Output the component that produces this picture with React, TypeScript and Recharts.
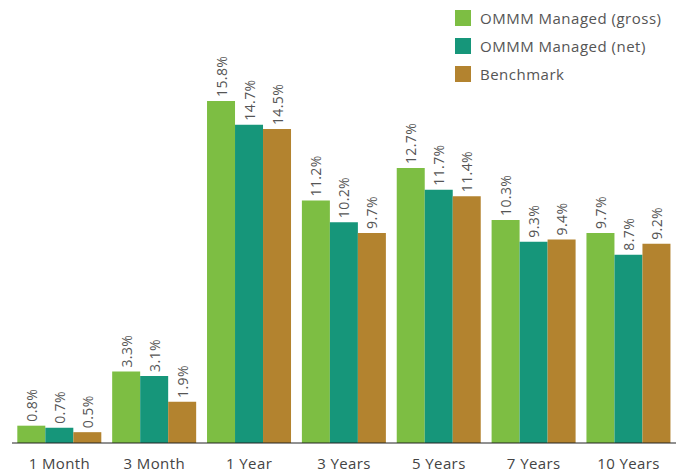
import { BarChart, Bar, XAxis, YAxis, LabelList } from 'recharts';

const categories = ['1 Month', '3 Month', '1 Year', '3 Years', '5 Years', '7 Years', '10 Years'];
const grossValues = [0.8, 3.3, 15.8, 11.2, 12.7, 10.3, 9.7];
const netValues = [0.7, 3.1, 14.7, 10.2, 11.7, 9.3, 8.7];
const benchmarkValues = [0.5, 1.9, 14.5, 9.7, 11.4, 9.4, 9.2];

const SERIES = [
  { key: 'gross', name: 'OMMM Managed (gross)', color: '#7DBE43' },
  { key: 'net', name: 'OMMM Managed (net)', color: '#16967A' },
  { key: 'benchmark', name: 'Benchmark', color: '#B3832F' },
];

const FONT = '"Open Sans", "DejaVu Sans", sans-serif';

const data = categories.map((name, i) => ({
  name,
  gross: grossValues[i],
  net: netValues[i],
  benchmark: benchmarkValues[i],
}));

const RotatedLabel = (props: any) => {
  const { x, y, width, value } = props;
  const cx = x + width / 2;
  const ty = y - 4;
  return (
    <text
      x={cx}
      y={ty}
      transform={`rotate(-90, ${cx}, ${ty})`}
      textAnchor="start"
      dominantBaseline="central"
      fontSize={14}
      letterSpacing={0.4}
      fill="#555"
      fontFamily={FONT}
    >
      {value.toFixed(1)}%
    </text>
  );
};

export default function App() {
  return (
    <div style={{ position: 'absolute', left: 0, top: 0, width: 684, height: 473, background: '#fff' }}>
      <BarChart
        width={684}
        height={473}
        data={data}
        margin={{ top: 10, right: 8, left: 12, bottom: 0 }}
        barCategoryGap="5.6%"
        barGap={0}
      >
        <XAxis
          dataKey="name"
          height={30}
          axisLine={{ stroke: '#222', strokeWidth: 1 }}
          tickLine={false}
          tick={{ fontSize: 15, fill: '#444', fontFamily: FONT, letterSpacing: 0.4 }}
          tickMargin={9}
          interval={0}
        />
        <YAxis hide domain={[0, 20]} />
        {SERIES.map((s) => (
          <Bar key={s.key} dataKey={s.key} name={s.name} fill={s.color} isAnimationActive={false}>
            <LabelList dataKey={s.key} content={<RotatedLabel />} />
          </Bar>
        ))}
      </BarChart>

      {/* Legend */}
      <div style={{ position: 'absolute', left: 455, top: 4, fontFamily: FONT }}>
        {SERIES.map((s) => (
          <div key={s.key} style={{ display: 'flex', alignItems: 'center', height: 28 }}>
            <div style={{ width: 16, height: 16, backgroundColor: s.color, marginRight: 9 }}></div>
            <span style={{ fontSize: 15, color: '#555', letterSpacing: 0.5 }}>{s.name}</span>
          </div>
        ))}
      </div>
    </div>
  );
}
